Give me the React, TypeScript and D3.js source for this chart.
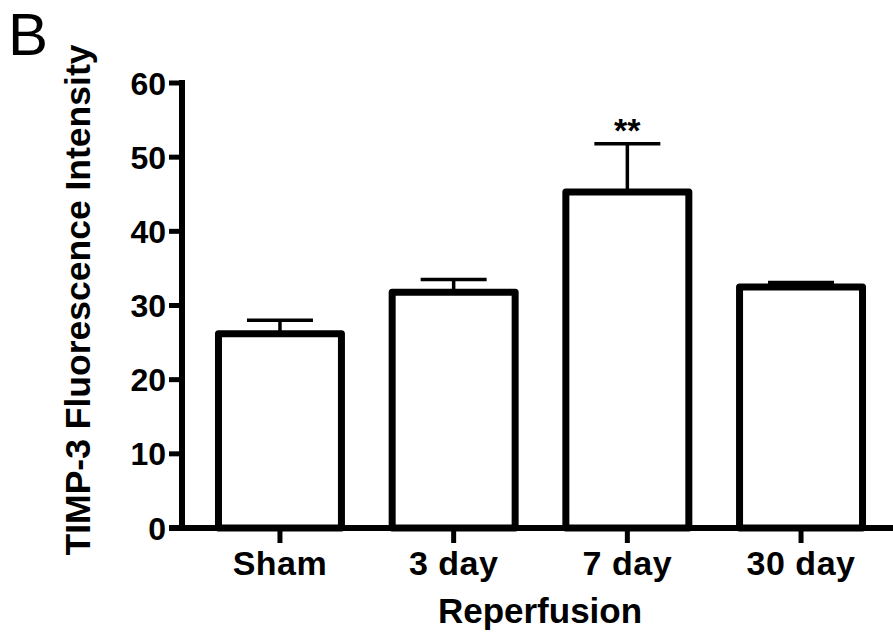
import React from "react";
import * as d3 from "d3";

const categories = ["Sham", "3 day", "7 day", "30 day"];
const means = [26.2, 31.8, 45.3, 32.5];
const errors = [1.8, 1.7, 6.5, 0.6];
const significance = ["", "", "**", ""];
const yTicks = [0, 10, 20, 30, 40, 50, 60];

const W = 893;
const H = 640;
const axisX = 182;
const axisY = 528;
const topY = 83;

export default function App() {
  const y = d3.scaleLinear().domain([0, 60]).range([axisY, topY]);
  const x = d3
    .scaleBand<string>()
    .domain(categories)
    .range([axisX, 899])
    .paddingInner(0.292)
    .paddingOuter(0.21);
  const bw = x.bandwidth();
  const font = "'Liberation Sans', Arial, sans-serif";
  const capHalf = 33;

  return (
    <svg
      width={W}
      height={H}
      style={{ position: "absolute", left: 0, top: 0, background: "#fff" }}
      fontFamily={font}
    >
      <rect x={0} y={0} width={W} height={H} fill="#fff" />
      {/* Panel letter */}
      <text x={8} y={55} fontSize={60} fill="#000">B</text>

      {/* bars */}
      {categories.map((c, i) => {
        const x0 = x(c)!;
        const cx = x0 + bw / 2;
        const top = y(means[i]);
        const errTop = y(means[i] + errors[i]);
        return (
          <g key={c}>
            <line x1={cx} x2={cx} y1={top} y2={errTop} stroke="#000" strokeWidth={3.5} />
            <line x1={cx - capHalf} x2={cx + capHalf} y1={errTop} y2={errTop} stroke="#000" strokeWidth={3.5} />
            <rect
              x={x0}
              y={top}
              width={bw}
              height={axisY - top}
              fill="#fff"
              stroke="#000"
              strokeWidth={7}
              strokeLinejoin="round"
            />
            {significance[i] && (
              <text
                x={cx}
                y={errTop - 2}
                textAnchor="middle"
                fontSize={34}
                fontWeight="bold"
                fill="#000"
              >
                {significance[i]}
              </text>
            )}
          </g>
        );
      })}

      {/* y axis */}
      <line x1={axisX} x2={axisX} y1={topY - 3} y2={axisY + 3} stroke="#000" strokeWidth={6} />
      {yTicks.map((t) => (
        <g key={t}>
          <line x1={axisX - 13} x2={axisX} y1={y(t)} y2={y(t)} stroke="#000" strokeWidth={5} />
          <text
            x={axisX - 16}
            y={y(t)}
            dy="0.36em"
            textAnchor="end"
            fontSize={32}
            fontWeight="bold"
            fill="#000"
          >
            {t}
          </text>
        </g>
      ))}

      {/* x axis */}
      <line x1={axisX - 13} x2={W} y1={axisY} y2={axisY} stroke="#000" strokeWidth={6} />
      {categories.map((c) => {
        const cx = x(c)! + bw / 2;
        return (
          <g key={c}>
            <line x1={cx} x2={cx} y1={axisY} y2={axisY + 15} stroke="#000" strokeWidth={5} />
            <text
              x={cx}
              y={575}
              textAnchor="middle"
              fontSize={34}
              fontWeight="bold"
              letterSpacing={0.5}
              fill="#000"
            >
              {c}
            </text>
          </g>
        );
      })}

      {/* axis titles */}
      <text
        x={540}
        y={623}
        textAnchor="middle"
        fontSize={35}
        fontWeight="bold"
        fill="#000"
      >
        Reperfusion
      </text>
      <text
        transform={`translate(90, ${(555 + 45) / 2}) rotate(-90)`}
        textAnchor="middle"
        fontSize={35.5}
        fontWeight="bold"
        fill="#000"
      >
        TIMP-3 Fluorescence Intensity
      </text>
    </svg>
  );
}
